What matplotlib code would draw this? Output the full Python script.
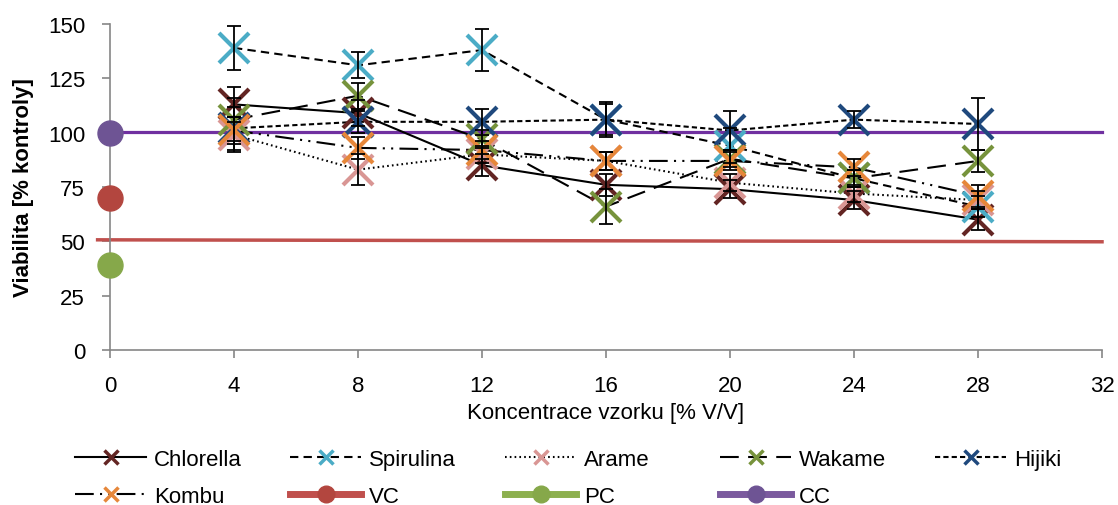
import matplotlib
matplotlib.use("Agg")
import matplotlib.pyplot as plt
from matplotlib.lines import Line2D

plt.rcParams['font.family'] = ['Liberation Sans', 'DejaVu Sans']

# concentrations [% V/V]
conc = [4, 8, 12, 16, 20, 24, 28]

# viability [% of control] and error for each extract
chlorella = [113, 109, 85, 76, 74, 69, 60]
chlorella_err = [8, 6, 5, 5, 4, 4, 5]
spirulina = [139, 131, 138, 106, 94, 79, 66]
spirulina_err = [10, 6, 9.5, 7, 8, 4, 5]
arame = [99, 83, 90, 87, 77, 72, 69]
arame_err = [8, 7, 4, 4, 4, 4, 4]
wakame = [106, 117, 97, 66, 88, 79, 87]
wakame_err = [10, 6, 4, 8, 4, 4, 5]
hijiki = [102, 105, 105, 106, 101, 106, 104]
hijiki_err = [10, 5, 6, 8, 9, 4, 12]
kombu = [101, 93, 92, 87, 87, 84, 71]
kombu_err = [6, 5, 4, 4, 4, 4, 5]

# controls
vc_point = 70
pc_point = 39
cc_point = 100
vc_line_x = [-0.4, 32]
vc_line_y = [50.7, 49.8]
cc_line_x = [0, 32]
cc_line_y = [100.3, 100.3]

series = [
    ("Chlorella", chlorella, chlorella_err, "#632523", "-"),
    ("Spirulina", spirulina, spirulina_err, "#4BACC6", (0, (4, 2.5))),
    ("Arame", arame, arame_err, "#D99694", (0, (0.8, 1.5))),
    ("Wakame", wakame, wakame_err, "#77933C", (0, (9, 4.5))),
    ("Hijiki", hijiki, hijiki_err, "#1F497D", (0, (2.5, 1.5))),
    ("Kombu", kombu, kombu_err, "#E6873A", (0, (9, 3, 1, 3, 1, 3))),
]

fig = plt.figure(figsize=(11.18, 5.06), dpi=100)
ax = fig.add_axes([0.0984, 0.3063, 0.8873, 0.6443])

handles = []
for name, vals, err, col, ls in series:
    ax.plot(conc, vals, color="black", linestyle=ls, linewidth=1.5, zorder=3)
    ax.plot(conc, vals, linestyle="none", marker="x", markersize=22,
            markeredgewidth=3, color=col, zorder=4)
    ax.errorbar(conc, vals, yerr=err, fmt="none", ecolor="black",
                elinewidth=1.3, capsize=5, capthick=1.3, zorder=5)
    handles.append(Line2D([], [], color="black", linestyle=ls, linewidth=1.5,
                          marker="x", markersize=10, markeredgewidth=2.5,
                          markeredgecolor=col))

ax.plot(vc_line_x, vc_line_y, color="#C0504D", linewidth=2.5, zorder=2, clip_on=False)
ax.plot(cc_line_x, cc_line_y, color="#7030A0", linewidth=2.3, zorder=2, clip_on=False)
ax.plot([0], [vc_point], "o", color="#B3463F", markersize=18, zorder=6, clip_on=False)
ax.plot([0], [pc_point], "o", color="#86A84A", markersize=18, zorder=6, clip_on=False)
ax.plot([0], [cc_point], "o", color="#6E5494", markersize=18, zorder=6, clip_on=False)

handles.append(Line2D([], [], color="#C0504D", linewidth=5, marker="o",
                      markersize=12, markerfacecolor="#B3463F", markeredgecolor="#B3463F"))
handles.append(Line2D([], [], color="#8DB04F", linewidth=5, marker="o",
                      markersize=12, markerfacecolor="#86A84A", markeredgecolor="#86A84A"))
handles.append(Line2D([], [], color="#7B5A9E", linewidth=5, marker="o",
                      markersize=12, markerfacecolor="#6E5494", markeredgecolor="#6E5494"))
labels = [s[0] for s in series] + ["VC", "PC", "CC"]

ax.set_xlim(0, 32)
ax.set_ylim(0, 150)
ax.set_xticks(range(0, 33, 4))
ax.set_yticks(range(0, 151, 25))
for side in ["top", "right"]:
    ax.spines[side].set_visible(False)
for side in ["left", "bottom"]:
    ax.spines[side].set_color("#868686")
    ax.spines[side].set_linewidth(1.2)
ax.tick_params(axis="both", colors="#868686", labelcolor="black",
               labelsize=16, length=6, width=1.2, direction="out", pad=12)
ax.set_xlabel("Koncentrace vzorku [% V/V]", fontsize=16, labelpad=4)
ax.set_ylabel("Viabilita [% kontroly]", fontsize=16, fontweight="bold", labelpad=10)

# legend: 5 evenly spaced columns, two rows
col_x = [75, 290, 505, 720, 935]
for i, x in enumerate(col_x):
    idx = [j for j in (i, i + 5) if j < len(handles)]
    fig.legend([handles[j] for j in idx], [labels[j] for j in idx],
               loc="upper left", bbox_to_anchor=(x / 1118, 1 - 450 / 506),
               frameon=False, fontsize=16, handlelength=3.2,
               handletextpad=0.35, borderpad=0, borderaxespad=0,
               labelspacing=0.72)

fig.savefig("out.png", dpi=100)
